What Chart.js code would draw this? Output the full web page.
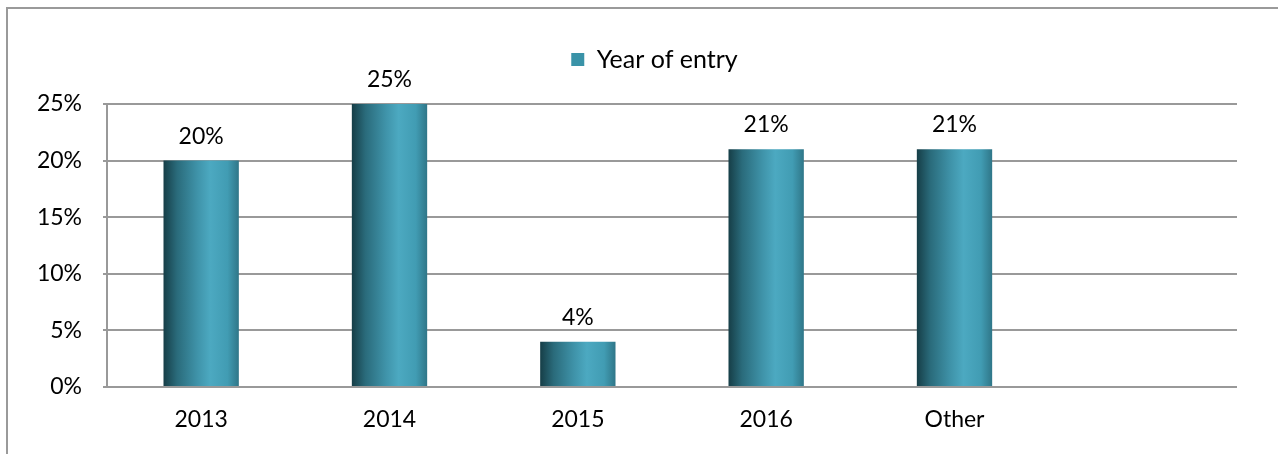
<!DOCTYPE html>
<html>
<head>
<meta charset="utf-8">
<script src="https://cdn.jsdelivr.net/npm/chart.js@4/dist/chart.umd.min.js"></script>
<style>
html,body{margin:0;padding:0;background:#fff;}
#wrap{position:relative;width:1278px;height:454px;}
</style>
</head>
<body>
<div id="wrap"><canvas id="c" width="1278" height="454"></canvas></div>
<script>
const categories = ['2013', '2014', '2015', '2016', 'Other', ''];
const yearOfEntry = [20, 25, 4, 21, 21, null];
const seriesName = 'Year of entry';
const yTicks = [0, 5, 10, 15, 20, 25];

const FONT = 'Lato, "Open Sans", sans-serif';
const BAR_PCT = 0.4;

const framePlugin = {
  id: 'frame',
  beforeDraw(chart) {
    const ctx = chart.ctx;
    ctx.save();
    ctx.fillStyle = '#fff';
    ctx.fillRect(0, 0, chart.width, chart.height);
    ctx.strokeStyle = '#9a9a9a';
    ctx.lineWidth = 2;
    ctx.beginPath();
    ctx.moveTo(7, chart.height);
    ctx.lineTo(7, 8);
    ctx.lineTo(chart.width, 8);
    ctx.stroke();
    ctx.restore();
  }
};

// add extra space beneath the legend and centre it over the whole frame
const legendSpacePlugin = {
  id: 'legendSpace',
  beforeLayout(chart) {
    const lg = chart.legend;
    if (lg && !lg._patched) {
      const f = lg.fit.bind(lg);
      lg.fit = function () { f(); this.height += 22; };
      lg._patched = true;
    }
  },
  afterLayout(chart) {
    const lg = chart.legend;
    if (lg) { lg.left += 36; lg.right += 36; }
  }
};

function barGradient(context) {
  const chart = context.chart;
  const xs = chart.scales.x;
  if (!chart.chartArea || !xs || context.dataIndex == null) return '#3a93a8';
  const cx = xs.getPixelForValue(context.dataIndex);
  const w = (xs.width / categories.length) * BAR_PCT;
  const x0 = cx - w / 2, x1 = cx + w / 2;
  if (!isFinite(x0) || !isFinite(x1)) return '#3a93a8';
  const g = chart.ctx.createLinearGradient(x0, 0, x1, 0);
  g.addColorStop(0, '#163e47');
  g.addColorStop(0.18, '#2a6b7b');
  g.addColorStop(0.45, '#3f93a9');
  g.addColorStop(0.62, '#4ca9c1');
  g.addColorStop(0.85, '#419cb3');
  g.addColorStop(1, '#2f7688');
  return g;
}

const labelPlugin = {
  id: 'valueLabels',
  afterDatasetsDraw(chart) {
    const ctx = chart.ctx;
    const meta = chart.getDatasetMeta(0);
    ctx.save();
    ctx.font = '23px ' + FONT;
    ctx.fillStyle = '#000';
    ctx.textAlign = 'center';
    ctx.textBaseline = 'bottom';
    meta.data.forEach((el, i) => {
      const v = yearOfEntry[i];
      if (v == null) return;
      ctx.fillText(v + '%', el.x, el.y - 13);
    });
    ctx.restore();
  }
};

new Chart(document.getElementById('c'), {
  type: 'bar',
  data: {
    labels: categories,
    datasets: [{
      label: seriesName,
      data: yearOfEntry,
      backgroundColor: barGradient,
      borderWidth: 0,
      categoryPercentage: 1,
      barPercentage: BAR_PCT
    }]
  },
  options: {
    responsive: false,
    animation: false,
    devicePixelRatio: 1,
    layout: { padding: { top: 23, right: 41, bottom: 0, left: 0 } },
    plugins: {
      legend: {
        display: true,
        position: 'top',
        labels: {
          boxWidth: 13,
          boxHeight: 13,
          padding: 24,
          color: '#000',
          font: { family: FONT, size: 25 },
          generateLabels(chart) {
            return [{ text: seriesName, fillStyle: '#3a93a8', strokeStyle: '#3a93a8', lineWidth: 0, hidden: false, datasetIndex: 0 }];
          }
        }
      },
      tooltip: { enabled: false },
      title: { display: false }
    },
    scales: {
      x: {
        grid: { display: false, drawTicks: false },
        border: { display: false },
        ticks: { color: '#000', font: { family: FONT, size: 23 }, padding: 19, maxRotation: 0 },
        afterFit(scale) { scale.height = 454 - 387; }
      },
      y: {
        min: 0,
        max: 25,
        afterBuildTicks(scale) { scale.ticks = yTicks.map(v => ({ value: v })); },
        grid: { color: '#999', lineWidth: 2, tickLength: 4, drawTicks: true },
        border: { display: true, color: '#999', width: 2 },
        ticks: {
          color: '#000',
          font: { family: FONT, size: 23 },
          padding: 21,
          callback: v => v + '%'
        },
        afterFit(scale) { scale.width = 107; }
      }
    }
  },
  plugins: [framePlugin, legendSpacePlugin, labelPlugin]
});
</script>
</body>
</html>
